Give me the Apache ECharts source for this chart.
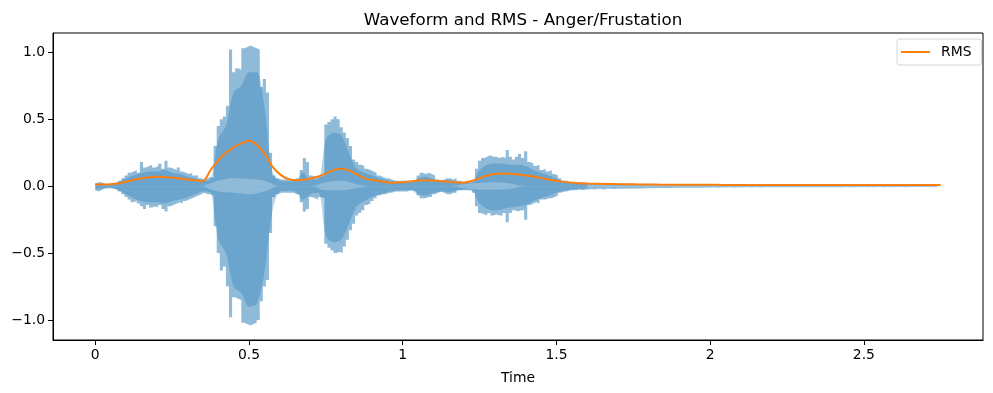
<!DOCTYPE html>
<html>
<head>
<meta charset="utf-8">
<script src="https://cdn.jsdelivr.net/npm/echarts@6/dist/echarts.min.js"></script>
<style>
html,body{margin:0;padding:0;background:#fff;}
#chart{width:993px;height:393px;}
</style>
</head>
<body>
<div id="chart"></div>
<script>
// ---- DATA ----
const waveStep = 0.01;    // seconds between envelope samples
const denseStep = 0.025;  // seconds between dense-band samples
const coreStep = 0.05;    // seconds between core-band samples
const rmsStep = 0.025;    // seconds between RMS frames

// outer envelope of the waveform (max / min per 10 ms)
const waveUpper = [
  0.02,0.03,0.03,0.02,0.015,0.015,0.02,0.02,0.04,0.06,
  0.08,0.10,0.11,0.12,0.10,0.18,0.14,0.15,0.16,0.14,
  0.15,0.17,0.13,0.19,0.14,0.13,0.12,0.14,0.11,0.10,
  0.09,0.10,0.08,0.08,0.06,0.05,0.06,0.07,0.06,0.30,
  0.45,0.50,0.52,0.60,1.02,0.85,0.88,0.87,1.03,1.04,
  1.05,1.04,1.03,1.02,0.74,0.80,0.70,0.25,0.08,0.06,
  0.05,0.05,0.05,0.04,0.05,0.06,0.05,0.12,0.21,0.18,
  0.08,0.07,0.07,0.07,0.08,0.46,0.48,0.50,0.52,0.50,
  0.44,0.40,0.36,0.30,0.20,0.18,0.16,0.15,0.13,0.12,
  0.11,0.10,0.08,0.07,0.06,0.06,0.05,0.04,0.04,0.04,
  0.04,0.04,0.04,0.03,0.04,0.08,0.10,0.09,0.10,0.09,
  0.08,0.05,0.04,0.05,0.06,0.06,0.05,0.06,0.04,0.03,
  0.03,0.03,0.03,0.04,0.13,0.19,0.21,0.22,0.23,0.22,
  0.22,0.21,0.22,0.21,0.27,0.22,0.20,0.22,0.24,0.21,
  0.26,0.18,0.17,0.15,0.16,0.12,0.13,0.11,0.12,0.09,
  0.08,0.06,0.04,0.04,0.03,0.03,0.03,0.025,0.03,0.025,
  0.025,0.02,0.025,0.02,0.02,0.025,0.02,0.02,0.02,0.02,
  0.02,0.02,0.018,0.02,0.018,0.018,0.016,0.018,0.016,0.015,
  0.015,0.014,0.015,0.013,0.014,0.013,0.012,0.013,0.012,0.012,
  0.012,0.011,0.012,0.011,0.011,0.012,0.011,0.010,0.011,0.010,
  0.010,0.011,0.010,0.010,0.010,0.009,0.010,0.010,0.009,0.010,
  0.009,0.010,0.009,0.009,0.010,0.009,0.009,0.009,0.010,0.009,
  0.009,0.009,0.008,0.009,0.009,0.008,0.009,0.009,0.008,0.009,
  0.008,0.009,0.008,0.008,0.009,0.008,0.008,0.008,0.009,0.008,
  0.008,0.008,0.008,0.009,0.008,0.008,0.008,0.007,0.008,0.008,
  0.008,0.007,0.008,0.008,0.007,0.008,0.008,0.007,0.008,0.007,
  0.007,0.008,0.007,0.007,0.008,0.007,0.007,0.007,0.008,0.007,
  0.007,0.007,0.008,0.007,0.007,0.006
];

const waveLower = [
  -0.03,-0.04,-0.03,-0.02,-0.015,-0.015,-0.02,-0.025,-0.04,-0.06,
  -0.08,-0.10,-0.12,-0.11,-0.13,-0.15,-0.17,-0.14,-0.16,-0.15,
  -0.16,-0.14,-0.17,-0.19,-0.15,-0.14,-0.13,-0.12,-0.13,-0.11,
  -0.10,-0.09,-0.08,-0.07,-0.06,-0.05,-0.06,-0.06,-0.07,-0.30,
  -0.50,-0.63,-0.60,-0.75,-0.98,-0.83,-0.84,-0.85,-1.02,-1.03,
  -1.04,-1.03,-1.02,-1.00,-0.86,-0.75,-0.70,-0.35,-0.08,-0.06,
  -0.05,-0.05,-0.05,-0.05,-0.05,-0.06,-0.06,-0.12,-0.19,-0.17,
  -0.08,-0.09,-0.10,-0.08,-0.09,-0.43,-0.46,-0.48,-0.50,-0.49,
  -0.50,-0.45,-0.40,-0.33,-0.28,-0.22,-0.20,-0.18,-0.14,-0.13,
  -0.11,-0.09,-0.07,-0.06,-0.06,-0.05,-0.05,-0.04,-0.04,-0.04,
  -0.04,-0.04,-0.03,-0.03,-0.04,-0.07,-0.09,-0.09,-0.08,-0.08,
  -0.06,-0.05,-0.04,-0.05,-0.06,-0.06,-0.05,-0.05,-0.03,-0.03,
  -0.03,-0.03,-0.03,-0.05,-0.15,-0.20,-0.21,-0.22,-0.20,-0.22,
  -0.21,-0.22,-0.22,-0.20,-0.27,-0.20,-0.18,-0.19,-0.18,-0.18,
  -0.25,-0.14,-0.13,-0.12,-0.13,-0.10,-0.10,-0.09,-0.09,-0.08,
  -0.07,-0.05,-0.04,-0.04,-0.03,-0.03,-0.03,-0.025,-0.03,-0.025,
  -0.025,-0.022,-0.025,-0.02,-0.022,-0.025,-0.02,-0.02,-0.022,-0.02,
  -0.02,-0.02,-0.018,-0.02,-0.018,-0.018,-0.017,-0.018,-0.016,-0.015,
  -0.015,-0.015,-0.014,-0.014,-0.014,-0.013,-0.013,-0.013,-0.012,-0.012,
  -0.012,-0.012,-0.011,-0.012,-0.011,-0.011,-0.011,-0.011,-0.010,-0.011,
  -0.010,-0.010,-0.011,-0.010,-0.010,-0.010,-0.009,-0.010,-0.010,-0.009,
  -0.010,-0.009,-0.009,-0.010,-0.009,-0.009,-0.010,-0.009,-0.009,-0.009,
  -0.009,-0.009,-0.009,-0.008,-0.009,-0.009,-0.008,-0.009,-0.008,-0.009,
  -0.008,-0.008,-0.009,-0.008,-0.008,-0.009,-0.008,-0.008,-0.008,-0.008,
  -0.008,-0.008,-0.008,-0.008,-0.007,-0.008,-0.008,-0.008,-0.007,-0.008,
  -0.007,-0.008,-0.007,-0.008,-0.007,-0.007,-0.008,-0.007,-0.007,-0.008,
  -0.007,-0.007,-0.007,-0.008,-0.007,-0.007,-0.007,-0.007,-0.007,-0.007,
  -0.007,-0.007,-0.006,-0.007,-0.007,-0.006
];

// darker, densely overlapped part of the waveform (every 25 ms, 0 .. 1.6 s)
const denseUpper = [
  0.02,0.015,0.012,0.03,0.06,0.08,0.10,0.11,0.11,0.12,
  0.10,0.09,0.07,0.06,0.04,0.05,0.35,0.45,0.70,0.75,
  0.85,0.85,0.60,0.12,0.04,0.035,0.04,0.10,0.05,0.05,
  0.35,0.40,0.38,0.25,0.13,0.10,0.08,0.06,0.045,0.035,
  0.03,0.03,0.06,0.07,0.05,0.04,0.045,0.035,0.025,0.03,
  0.12,0.16,0.17,0.17,0.16,0.16,0.15,0.12,0.10,0.08,
  0.055,0.035,0.025,0.02,0.018
];
const denseLower = [
  -0.025,-0.015,-0.012,-0.03,-0.06,-0.09,-0.11,-0.12,-0.12,-0.13,
  -0.11,-0.10,-0.08,-0.06,-0.04,-0.05,-0.40,-0.50,-0.75,-0.80,
  -0.90,-0.88,-0.65,-0.20,-0.04,-0.035,-0.04,-0.10,-0.06,-0.05,
  -0.37,-0.42,-0.40,-0.28,-0.15,-0.11,-0.08,-0.06,-0.045,-0.035,
  -0.03,-0.03,-0.06,-0.07,-0.05,-0.04,-0.045,-0.035,-0.025,-0.03,
  -0.13,-0.17,-0.18,-0.17,-0.16,-0.15,-0.14,-0.11,-0.09,-0.07,
  -0.05,-0.035,-0.025,-0.02,-0.018
];
// lighter core band around zero inside the loud parts (every 50 ms, 0.35 .. 1.45 s)
const coreStart = 0.35;
const coreUpper = [
  0.0,0.04,0.06,0.055,0.04,0.0,0.0,0.0,0.03,0.04,
  0.015,0.0,0.0,0.0,0.0,0.0,0.0,0.015,0.025,0.03,
  0.02,0.0,0.0
];
const coreLower = [
  0.0,-0.04,-0.05,-0.06,-0.04,0.0,0.0,0.0,-0.03,-0.03,
  -0.015,0.0,0.0,0.0,0.0,0.0,0.0,-0.015,-0.025,-0.025,
  -0.02,0.0,0.0
];

const rmsValues = [
  0.012,0.012,0.015,0.022,0.032,0.048,0.058,0.066,0.070,0.069,
  0.064,0.057,0.050,0.043,0.037,0.120,0.195,0.250,0.290,0.320,
  0.340,0.310,0.245,0.150,0.090,0.055,0.045,0.048,0.057,0.072,
  0.095,0.120,0.130,0.118,0.090,0.060,0.045,0.038,0.030,0.026,
  0.030,0.035,0.042,0.045,0.043,0.038,0.033,0.028,0.027,0.040,
  0.060,0.080,0.090,0.095,0.093,0.087,0.080,0.072,0.062,0.050,
  0.040,0.032,0.025,0.021,0.019,0.018,0.017,0.016,0.015,0.014,
  0.014,0.013,0.012,0.012,0.011,0.011,0.011,0.010,0.010,0.010,
  0.010,0.010,0.009,0.009,0.009,0.009,0.009,0.009,0.009,0.009,
  0.009,0.009,0.009,0.008,0.008,0.008,0.008,0.008,0.008,0.008,
  0.008,0.008,0.008,0.008,0.008,0.008,0.008,0.008,0.008,0.008,
  0.008
];

const xTicks = [0, 0.5, 1, 1.5, 2, 2.5];
const yTicks = [-1.0, -0.5, 0.0, 0.5, 1.0];
const titleText = 'Waveform and RMS - Anger/Frustation';
const xLabel = 'Time';
const rmsName = 'RMS';

// ---- build series data ----
const t3 = v => +v.toFixed(3);
const upperData = waveUpper.map((v, i) => [t3(i * waveStep), v]);
const lowerData = waveLower.map((v, i) => [t3(i * waveStep), v]);
const denseUData = denseUpper.map((v, i) => [t3(i * denseStep), v]);
const denseLData = denseLower.map((v, i) => [t3(i * denseStep), v]);
const coreUData = coreUpper.map((v, i) => [t3(coreStart + i * coreStep), v]);
const coreLData = coreLower.map((v, i) => [t3(coreStart + i * coreStep), v]);
const rmsData = rmsValues.map((v, i) => [t3(i * rmsStep), v]);

const FONT = 'DejaVu Sans';
const LIGHT = 'rgba(31,119,180,0.5)';
const DENSE = 'rgba(31,119,180,0.32)';
const CORE = '#8fbbd9';

function band(name, data, color, z, step, smooth) {
  return {
    name, type: 'line', data, symbol: 'none', silent: true,
    step: step || false, smooth: smooth || false,
    lineStyle: {width: 0, opacity: 0},
    areaStyle: {color, opacity: 1, origin: 0},
    z
  };
}

const chart = echarts.init(document.getElementById('chart'), null, {renderer: 'canvas'});
chart.setOption({
  animation: false,
  backgroundColor: '#ffffff',
  textStyle: {fontFamily: FONT},
  title: {
    text: titleText,
    left: 518, top: 7, textAlign: 'center',
    textStyle: {fontFamily: FONT, fontSize: 16.7, fontWeight: 'normal', color: '#000'}
  },
  legend: {
    data: [{name: rmsName, icon: 'rect'}],
    left: 897, top: 39,
    padding: [6, 10, 6, 4],
    itemWidth: 29, itemHeight: 2,
    borderColor: '#d4d4d4', borderWidth: 1, borderRadius: 3,
    backgroundColor: 'rgba(255,255,255,0.8)',
    textStyle: {fontFamily: FONT, fontSize: 13.9, color: '#000', padding: [0,0,0,6]}
  },
  grid: {
    left: 53, right: 10, top: 33, bottom: 53,
    show: true, borderColor: '#000', borderWidth: 1, backgroundColor: 'transparent'
  },
  xAxis: {
    type: 'value',
    min: -0.1375, max: 2.8875,
    name: xLabel, nameLocation: 'middle', nameGap: 31,
    nameTextStyle: {fontFamily: FONT, fontSize: 13.9, color: '#000'},
    axisLine: {show: true, onZero: false, lineStyle: {color: '#000', width: 1}},
    axisTick: {show: true, length: 5, lineStyle: {color: '#000'}, customValues: xTicks},
    axisLabel: {
      fontFamily: FONT, fontSize: 13.9, color: '#000', margin: 8,
      customValues: xTicks,
      formatter: v => String(+v.toFixed(2))
    },
    splitLine: {show: false}
  },
  yAxis: {
    type: 'value',
    min: -1.149, max: 1.144,
    axisLine: {show: true, onZero: false, lineStyle: {color: '#000', width: 1}},
    axisTick: {show: true, length: 5, lineStyle: {color: '#000'}, customValues: yTicks},
    axisLabel: {
      fontFamily: FONT, fontSize: 13.9, color: '#000', margin: 8,
      customValues: yTicks,
      formatter: v => (v < 0 ? '\u2212' : '') + Math.abs(v).toFixed(1)
    },
    splitLine: {show: false}
  },
  series: [
    band('wave-upper', upperData, LIGHT, 1, 'middle'),
    band('wave-lower', lowerData, LIGHT, 1, 'middle'),
    band('dense-upper', denseUData, DENSE, 2, false, 0.3),
    band('dense-lower', denseLData, DENSE, 2, false, 0.3),
    band('core-upper', coreUData, CORE, 3, false, 0.4),
    band('core-lower', coreLData, CORE, 3, false, 0.4),
    {
      name: rmsName, type: 'line', data: rmsData, symbol: 'none',
      smooth: 0.25,
      lineStyle: {color: '#ff7f0e', width: 2},
      itemStyle: {color: '#ff7f0e'},
      z: 5
    }
  ]
});
</script>
</body>
</html>
